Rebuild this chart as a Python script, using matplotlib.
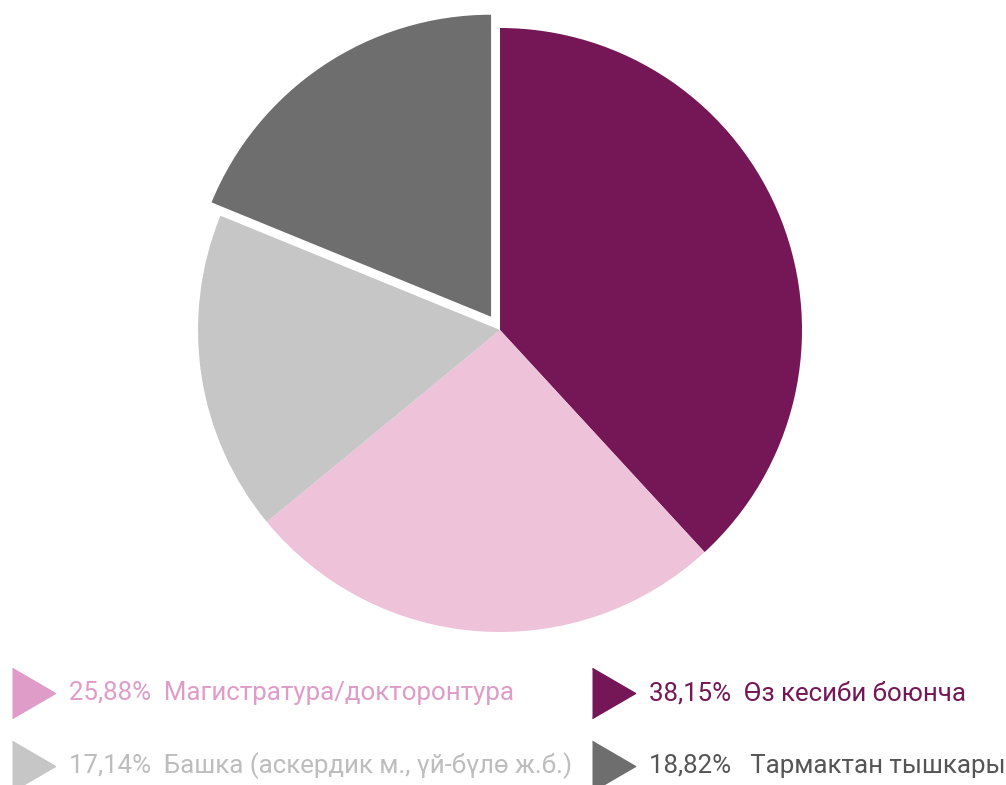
import matplotlib.pyplot as plt

# data
labels = ['Өз кесиби боюнча', 'Магистратура/докторонтура',
          'Башка (аскердик м., үй-бүлө ж.б.)', 'Тармактан тышкары']
shares = [38.15, 25.88, 17.14, 18.82]
pie_colors = ['#751756', '#EEC3D9', '#C6C6C6', '#6E6E6E']
marker_colors = ['#751756', '#E09CC8', '#C6C6C6', '#6E6E6E']
text_colors = ['#751756', '#E09CC8', '#BDBDBD', '#555555']

fig = plt.figure(figsize=(10.06, 7.85), dpi=100)
ax = fig.add_axes([0, 0, 1, 1])

# explode is in data units here (pixels), since the axes maps 1:1 to pixels
ax.pie(shares, colors=pie_colors, explode=[0, 0, 0, 16], startangle=90,
       counterclock=False, center=(500, 455), radius=302,
       wedgeprops=dict(linewidth=0))
ax.set_xlim(0, 1006)
ax.set_ylim(0, 785)
ax.set_aspect('equal')
ax.axis('off')

def fmt(v):
    return f'{v:.2f}'.replace('.', ',') + '%'

# legend: (index, x of marker, y of row, gap)
legend_pos = [(1, 12, 92, '  '), (0, 592, 92, '  '),
              (2, 12, 19, '  '), (3, 592, 19, '   ')]
tri = [(0, -25), (43, 0), (0, 25)]
for i, x, y, gap in legend_pos:
    ax.plot([x], [y], marker=tri, markersize=62, color=marker_colors[i],
            linestyle='none', clip_on=False)
    ax.text(x + 57, y, fmt(shares[i]) + gap + labels[i], color=text_colors[i],
            fontsize=18.6, family=['Roboto', 'DejaVu Sans'], va='center', ha='left')

fig.savefig('out.png', dpi=100)
